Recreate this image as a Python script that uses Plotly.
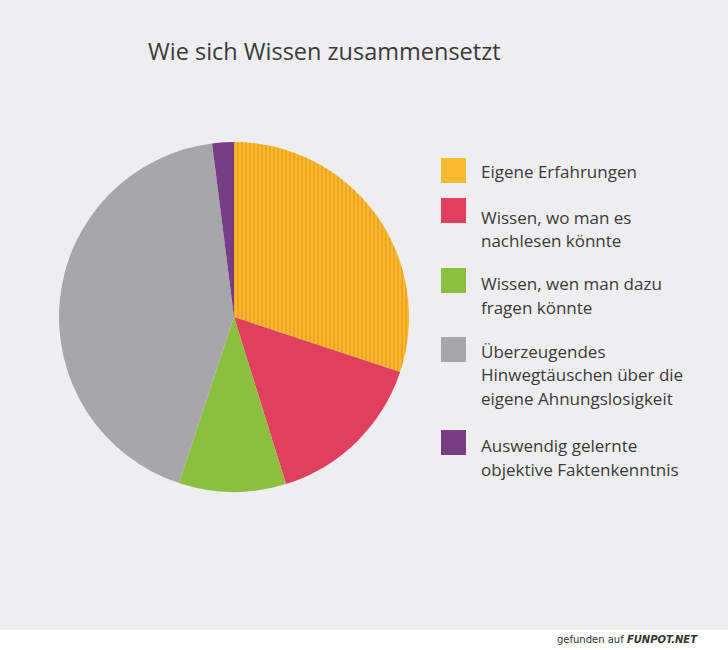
import plotly.graph_objects as go

title = "Wie sich Wissen zusammensetzt"
labels = [
    "Eigene Erfahrungen",
    "Wissen, wo man es<br>nachlesen könnte",
    "Wissen, wen man dazu<br>fragen könnte",
    "Überzeugendes<br>Hinwegtäuschen über die<br>eigene Ahnungslosigkeit",
    "Auswendig gelernte<br>objektive Faktenkenntnis",
]
values = [30.1, 15.1, 9.9, 42.9, 2.0]
colors = ["#F9BA30", "#E0405E", "#8CBF3F", "#A7A7AB", "#773E84"]

W, H = 728, 650
BG = "#EEEEF0"
fig = go.Figure()
fig.add_trace(go.Pie(
    labels=labels, values=values, sort=False, direction="clockwise", rotation=0,
    marker=dict(colors=colors, line=dict(width=0),
                pattern=dict(shape=["|", "", "", "", ""], fgcolor="#EDA01C",
                             bgcolor=colors, fillmode="replace",
                             size=4, solidity=0.4)),
    textinfo="none", hoverinfo="label+percent", showlegend=False,
    domain=dict(x=[59 / W, 409 / W], y=[1 - 492 / H, 1 - 142 / H]),
))

# legend: squares + text (one annotation per line for exact line spacing)
sq_tops = [158, 198, 268, 337, 430]
first_baselines = [177, 223, 289, 357, 451]
LINE = 23.5
shapes = []
annotations = []
for lab, col, top, base in zip(labels, colors, sq_tops, first_baselines):
    shapes.append(dict(type="rect", xref="paper", yref="paper",
                       x0=441 / W, x1=466 / W, y0=1 - (top + 25) / H, y1=1 - top / H,
                       fillcolor=col, line=dict(width=0), layer="above"))
    for i, line in enumerate(lab.split("<br>")):
        annotations.append(dict(text=line, xref="paper", yref="paper",
                                x=479 / W, y=1 - (base + i * LINE - 5.5) / H,
                                xanchor="left", yanchor="middle",
                                align="left", showarrow=False,
                                font=dict(family="Open Sans", size=17, color="#3A3A3A")))

# bottom white band with watermark
shapes.append(dict(type="rect", xref="paper", yref="paper", x0=0, x1=1,
                   y0=0, y1=1 - 630 / H, fillcolor="#FFFFFF", line=dict(width=0), layer="below"))
annotations.append(dict(text="gefunden auf <b><i>FUNPOT.NET</i></b>", xref="paper", yref="paper",
                        x=700 / W, y=1 - 639 / H, xanchor="right", yanchor="middle",
                        showarrow=False, font=dict(family="DejaVu Sans", size=10, color="#333333")))

fig.update_layout(
    width=W, height=H, margin=dict(l=0, r=0, t=0, b=0),
    paper_bgcolor=BG, plot_bgcolor=BG,
    title=dict(text=title, x=148 / W, xanchor="left", y=1 - 52 / H, yanchor="middle",
               font=dict(family="Open Sans", size=23.5, color="#3A3A3A")),
    shapes=shapes, annotations=annotations,
)
fig.write_html("out.html", config={"displayModeBar": False},
               post_script="document.body.style.margin='0';document.body.style.overflow='hidden';"
                           "document.body.style.background='%s';" % BG)
